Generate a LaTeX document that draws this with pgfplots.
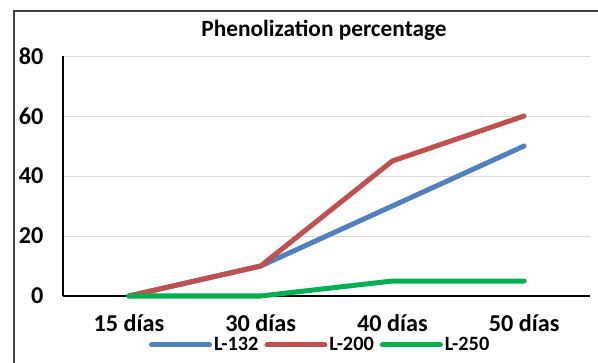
\documentclass[border=0pt]{standalone}
\usepackage{fontspec}
\setmainfont{Carlito}
\usepackage{pgfplots}
\pgfplotsset{compat=1.18}
\definecolor{cblue}{HTML}{4F81BD}
\definecolor{cred}{HTML}{C0504D}
\definecolor{cgreen}{HTML}{00B050}
\begin{document}
\begin{tikzpicture}
\path[use as bounding box] (0,0) rectangle (598bp,363bp);
\draw[black!75, line width=1.2bp] (14bp,0) -- (14bp,352bp) -- (598bp,352bp);
\node[font=\bfseries\fontsize{23.4}{26}\selectfont] at (324bp,333bp) {Phenolization percentage};
\begin{axis}[
  anchor=south west, at={(63bp,67bp)},
  scale only axis, width=527bp, height=240bp,
  xmin=-0.5, xmax=3.5, ymin=0, ymax=80,
  xtick={0,1,2,3}, xticklabels={15 días,30 días,40 días,50 días},
  ytick={0,20,40,60,80},
  axis x line*=bottom, axis y line*=left,
  axis line style={black, line width=1.3bp, -},
  major tick length=0pt,
  ymajorgrids, grid style={black!15, line width=1bp},
  tick label style={font=\bfseries\fontsize{24.3}{27}\selectfont},
  /pgf/number format/assume math mode=true,
  yticklabel style={xshift=-16bp},
  xticklabel style={yshift=-15bp},
  legend style={at={(0.488,-0.204)}, anchor=center, draw=none, fill=none,
    font=\bfseries\fontsize{20.4}{23}\selectfont, legend columns=3,
    /tikz/every even column/.append style={column sep=4bp},
    inner sep=0pt},
  legend image code/.code={\draw[#1] (0bp,0bp) -- (58bp,0bp);},
  every axis plot/.append style={line width=5bp, line cap=round, line join=round},
  clip=false,
]
\addplot[cblue] coordinates {(0,0) (1,10) (2,30) (3,50)};
\addplot[cred] coordinates {(0,0) (1,10) (2,45) (3,60)};
\addplot[cgreen] coordinates {(0,0) (1,0) (2,5) (3,5)};
\legend{L-132,L-200,L-250}
\end{axis}
\end{tikzpicture}
\end{document}
